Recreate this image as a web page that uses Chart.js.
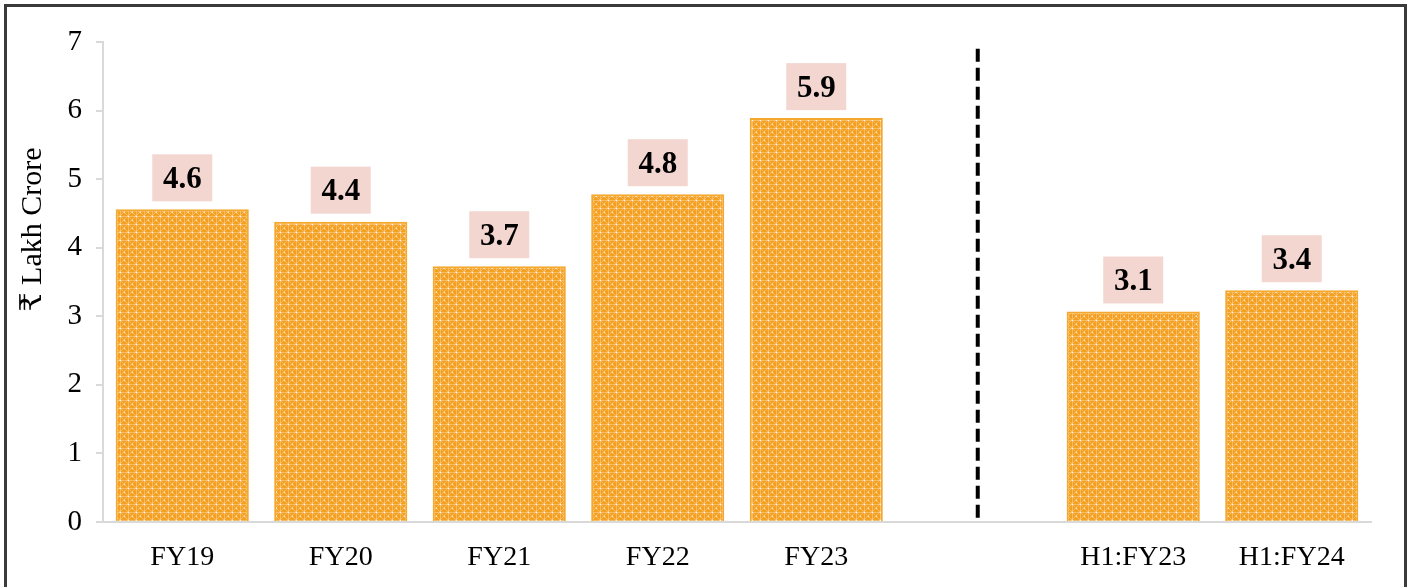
<!DOCTYPE html>
<html>
<head>
<meta charset="utf-8">
<script src="https://cdn.jsdelivr.net/npm/chart.js@4.4.0/dist/chart.umd.min.js"></script>
<style>
  html, body { margin: 0; padding: 0; background: #fff; }
  #wrap { width: 1424px; height: 587px; position: relative; }
</style>
</head>
<body>
<div id="wrap"><canvas id="chart" width="1424" height="587"></canvas></div>
<script>
const categories = ['FY19', 'FY20', 'FY21', 'FY22', 'FY23', '', 'H1:FY23', 'H1:FY24'];
const values = [4.56, 4.38, 3.73, 4.78, 5.89, null, 3.07, 3.38];
const valueLabels = ['4.6', '4.4', '3.7', '4.8', '5.9', '', '3.1', '3.4'];
const yTicks = [0, 1, 2, 3, 4, 5, 6, 7];
const yTitle = '₹ Lakh Crore';
const separatorIndex = 5;
const separatorRange = [0.05, 6.9];

function makePattern() {
  const n = 8;
  const c = document.createElement('canvas');
  c.width = n; c.height = n;
  const g = c.getContext('2d');
  g.fillStyle = '#f4a020';
  g.fillRect(0, 0, n, n);
  g.strokeStyle = 'rgba(255,255,255,0.3)';
  g.lineWidth = 1;
  g.beginPath();
  g.moveTo(0, 0); g.lineTo(n, n);
  g.moveTo(n, 0); g.lineTo(0, n);
  g.stroke();
  g.fillStyle = 'rgba(255,255,255,0.3)';
  g.fillRect(0, 0, n, 1);
  g.fillRect(0, 0, 1, n);
  g.fillStyle = 'rgba(255,255,255,0.85)';
  g.fillRect(0, 0, 1, 1);
  g.fillRect(n / 2, n / 2, 1, 1);
  return g.createPattern(c, 'repeat');
}

const frame = {
  id: 'frame',
  afterDraw(chart) {
    const ctx = chart.ctx;
    ctx.save();
    ctx.strokeStyle = '#3a3a3a';
    ctx.lineWidth = 3;
    ctx.strokeRect(5.5, 5.5, 1400, 620);
    ctx.restore();
  }
};

const separator = {
  id: 'separator',
  afterDatasetsDraw(chart) {
    const { ctx, scales: { x, y } } = chart;
    const px = x.getPixelForValue(separatorIndex) + 3;
    ctx.save();
    ctx.strokeStyle = '#000';
    ctx.lineWidth = 4;
    ctx.setLineDash([13, 6]);
    ctx.beginPath();
    ctx.moveTo(px, y.getPixelForValue(separatorRange[1]));
    ctx.lineTo(px, y.getPixelForValue(separatorRange[0]));
    ctx.stroke();
    ctx.restore();
  }
};

const boxLabels = {
  id: 'boxLabels',
  afterDatasetsDraw(chart) {
    const ctx = chart.ctx;
    const meta = chart.getDatasetMeta(0);
    ctx.save();
    ctx.font = 'bold 31px "Liberation Serif", "Times New Roman", serif';
    ctx.textAlign = 'center';
    ctx.textBaseline = 'middle';
    meta.data.forEach((bar, i) => {
      if (values[i] == null) return;
      const w = 60, h = 47;
      const bottom = bar.y - 8;
      ctx.fillStyle = '#f3d6d0';
      ctx.fillRect(bar.x - w / 2, bottom - h, w, h);
      ctx.fillStyle = '#000';
      ctx.fillText(valueLabels[i], bar.x, bottom - h / 2 + 2);
    });
    ctx.restore();
  }
};

const serif = '"Liberation Serif", "Times New Roman", "DejaVu Serif", serif';

new Chart(document.getElementById('chart'), {
  type: 'bar',
  data: {
    labels: categories,
    datasets: [{
      data: values,
      backgroundColor: makePattern(),
      borderColor: '#f5a82e',
      borderWidth: 2,
      barPercentage: 0.84,
      categoryPercentage: 1
    }]
  },
  options: {
    responsive: false,
    animation: false,
    layout: { padding: { left: 12, right: 53, top: 42, bottom: 0 } },
    plugins: {
      legend: { display: false },
      tooltip: { enabled: false }
    },
    scales: {
      x: {
        grid: { display: true, drawOnChartArea: false, drawTicks: false },
        border: { display: true, color: '#d9d9d9', width: 2 },
        ticks: { color: '#000', font: { family: serif, size: 28 }, padding: 19 },
        afterFit: s => { s.height = 65; }
      },
      y: {
        min: 0, max: 7,
        afterBuildTicks: s => { s.ticks = yTicks.map(v => ({ value: v })); },
        grid: { display: true, drawOnChartArea: false, tickLength: 7, color: '#d9d9d9', lineWidth: 2 },
        border: { display: true, color: '#d9d9d9', width: 2 },
        ticks: { color: '#000', font: { family: serif, size: 29 }, padding: 14 },
        title: {
          display: true,
          // leading spaces push the rotated title up, as in the original
          text: '\u00a0'.repeat(14) + yTitle,
          color: '#000',
          font: { family: serif, size: 30 },
          padding: { top: 3, bottom: 4 }
        },
        afterFit: s => { s.width = 91; }
      }
    }
  },
  plugins: [separator, boxLabels, frame]
});
</script>
</body>
</html>
